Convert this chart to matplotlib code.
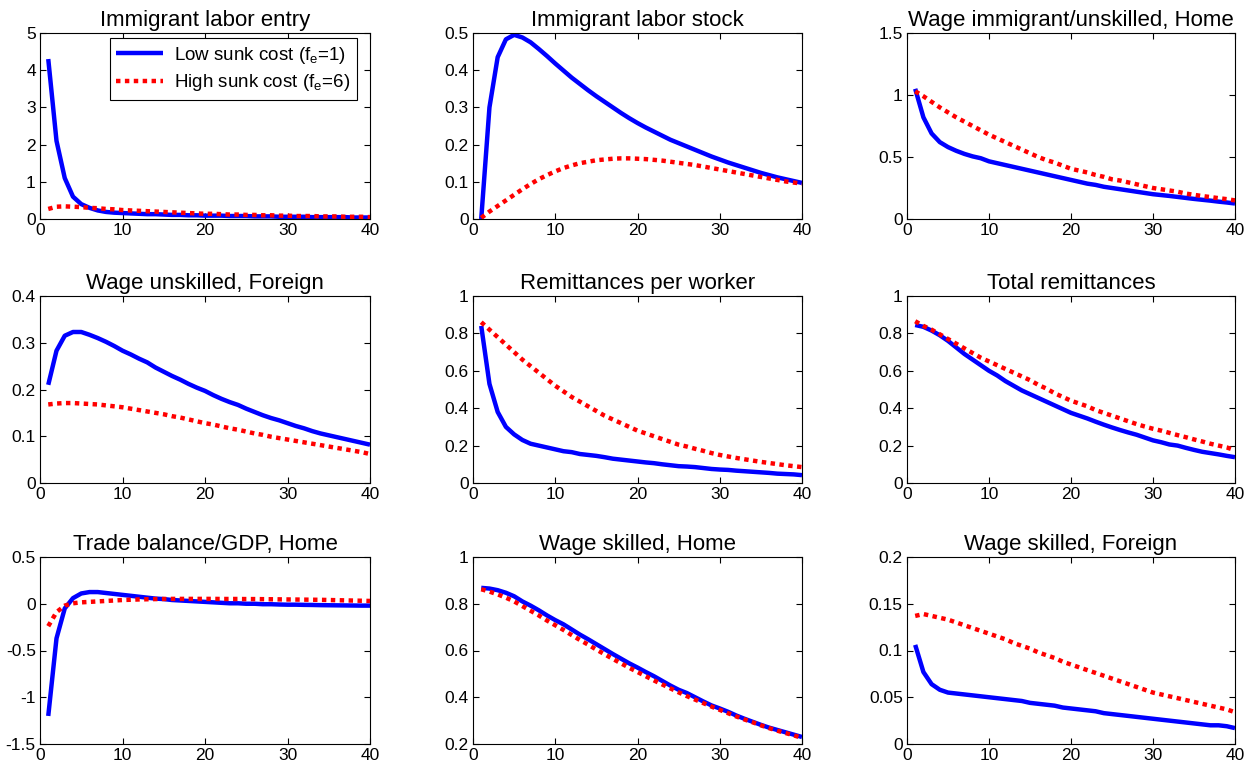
import matplotlib
matplotlib.use("Agg")
import matplotlib.pyplot as plt
import numpy as np
from matplotlib.ticker import FixedLocator, FuncFormatter

plt.rcParams['font.family'] = ['Liberation Sans', 'DejaVu Sans']
plt.rcParams['axes.unicode_minus'] = False

periods = list(range(1, 41))

titles = ["Immigrant labor entry", "Immigrant labor stock", "Wage immigrant/unskilled, Home",
          "Wage unskilled, Foreign", "Remittances per worker", "Total remittances",
          "Trade balance/GDP, Home", "Wage skilled, Home", "Wage skilled, Foreign"]

series_labels = ["Low sunk cost (f$_\\mathregular{e}$=1)", "High sunk cost (f$_\\mathregular{e}$=6)"]

# ---- Immigrant labor entry
entry_low = [4.3, 2.1, 1.1, 0.6, 0.4, 0.3, 0.23, 0.19, 0.17, 0.16, 0.15, 0.14, 0.13, 0.13, 0.12,
             0.11, 0.11, 0.10, 0.10, 0.09, 0.09, 0.09, 0.08, 0.08, 0.08, 0.07, 0.07, 0.07, 0.06, 0.06,
             0.06, 0.06, 0.05, 0.05, 0.05, 0.05, 0.05, 0.04, 0.04, 0.04]
entry_high = [0.27, 0.33, 0.34, 0.33, 0.32, 0.30, 0.29, 0.27, 0.26, 0.24, 0.23, 0.22, 0.21, 0.20, 0.19,
              0.18, 0.17, 0.16, 0.15, 0.14, 0.14, 0.13, 0.12, 0.12, 0.11, 0.11, 0.10, 0.10, 0.09, 0.09,
              0.08, 0.08, 0.08, 0.07, 0.07, 0.07, 0.06, 0.06, 0.06, 0.05]

# ---- Immigrant labor stock
stock_low = [0.0, 0.30, 0.435, 0.483, 0.495, 0.488, 0.475, 0.457, 0.438, 0.418, 0.399, 0.380, 0.363,
             0.346, 0.330, 0.315, 0.300, 0.285, 0.271, 0.258, 0.246, 0.235, 0.224, 0.213, 0.204, 0.195,
             0.186, 0.177, 0.168, 0.160, 0.152, 0.145, 0.138, 0.131, 0.124, 0.118, 0.112, 0.107, 0.102, 0.097]
stock_high = [0.003, 0.020, 0.035, 0.050, 0.065, 0.080, 0.094, 0.107, 0.118, 0.128, 0.137, 0.144, 0.150,
              0.154, 0.158, 0.160, 0.162, 0.163, 0.163, 0.162, 0.161, 0.159, 0.157, 0.154, 0.151, 0.148,
              0.145, 0.141, 0.137, 0.133, 0.129, 0.125, 0.121, 0.117, 0.113, 0.109, 0.105, 0.101, 0.098, 0.095]

# ---- Wage immigrant/unskilled, Home
wimm_low = [1.05, 0.82, 0.69, 0.62, 0.58, 0.55, 0.525, 0.505, 0.49, 0.465, 0.45, 0.435, 0.42, 0.405,
            0.39, 0.375, 0.36, 0.345, 0.33, 0.315, 0.30, 0.285, 0.275, 0.26, 0.25, 0.24, 0.23, 0.22,
            0.21, 0.20, 0.193, 0.186, 0.178, 0.17, 0.162, 0.155, 0.148, 0.14, 0.133, 0.125]
wimm_high = [1.03, 0.99, 0.945, 0.90, 0.86, 0.82, 0.785, 0.75, 0.715, 0.68, 0.65, 0.62, 0.59, 0.56,
             0.53, 0.50, 0.475, 0.455, 0.43, 0.405, 0.39, 0.375, 0.355, 0.34, 0.32, 0.31, 0.295, 0.28,
             0.265, 0.25, 0.24, 0.23, 0.22, 0.205, 0.195, 0.185, 0.177, 0.168, 0.16, 0.15]

# ---- Wage unskilled, Foreign
wunf_low = [0.21, 0.283, 0.315, 0.323, 0.323, 0.317, 0.31, 0.302, 0.293, 0.283, 0.275, 0.266, 0.258,
            0.247, 0.238, 0.229, 0.221, 0.212, 0.204, 0.197, 0.188, 0.18, 0.173, 0.167, 0.159, 0.152,
            0.145, 0.139, 0.134, 0.128, 0.122, 0.117, 0.111, 0.106, 0.102, 0.098, 0.094, 0.09, 0.086, 0.082]
wunf_high = [0.168, 0.17, 0.171, 0.171, 0.17, 0.169, 0.168, 0.166, 0.164, 0.162, 0.159, 0.156, 0.153,
             0.15, 0.147, 0.143, 0.14, 0.136, 0.132, 0.128, 0.125, 0.121, 0.117, 0.114, 0.11, 0.106,
             0.103, 0.099, 0.096, 0.093, 0.09, 0.087, 0.084, 0.081, 0.078, 0.075, 0.072, 0.069, 0.066, 0.062]

# ---- Remittances per worker
rpw_low = [0.84, 0.53, 0.38, 0.30, 0.26, 0.23, 0.21, 0.20, 0.19, 0.18, 0.17, 0.165, 0.155, 0.15, 0.145,
           0.138, 0.13, 0.125, 0.12, 0.115, 0.11, 0.106, 0.10, 0.095, 0.09, 0.088, 0.085, 0.08, 0.075,
           0.072, 0.07, 0.066, 0.063, 0.06, 0.057, 0.054, 0.05, 0.048, 0.046, 0.042]
rpw_high = [0.86, 0.82, 0.78, 0.74, 0.70, 0.66, 0.625, 0.59, 0.555, 0.52, 0.49, 0.46, 0.435, 0.41,
            0.385, 0.36, 0.34, 0.32, 0.30, 0.28, 0.265, 0.25, 0.235, 0.22, 0.205, 0.195, 0.183, 0.172,
            0.16, 0.15, 0.142, 0.134, 0.127, 0.12, 0.113, 0.107, 0.101, 0.095, 0.09, 0.085]

# ---- Total remittances
tot_low = [0.845, 0.835, 0.815, 0.79, 0.76, 0.725, 0.69, 0.66, 0.63, 0.60, 0.575, 0.545, 0.52, 0.495,
           0.475, 0.455, 0.435, 0.415, 0.395, 0.375, 0.36, 0.345, 0.328, 0.312, 0.297, 0.283, 0.27,
           0.258, 0.243, 0.228, 0.218, 0.206, 0.20, 0.188, 0.177, 0.167, 0.16, 0.153, 0.145, 0.138]
tot_high = [0.865, 0.84, 0.82, 0.795, 0.77, 0.745, 0.72, 0.695, 0.67, 0.65, 0.63, 0.61, 0.59, 0.57,
            0.55, 0.525, 0.505, 0.48, 0.46, 0.44, 0.425, 0.41, 0.39, 0.375, 0.36, 0.345, 0.33, 0.315,
            0.302, 0.29, 0.28, 0.268, 0.256, 0.245, 0.233, 0.222, 0.21, 0.20, 0.19, 0.175]

# ---- Trade balance/GDP, Home
tb_low = [-1.2, -0.37, -0.05, 0.06, 0.11, 0.125, 0.125, 0.115, 0.105, 0.095, 0.085, 0.075, 0.065, 0.055,
          0.05, 0.04, 0.035, 0.03, 0.025, 0.02, 0.015, 0.01, 0.005, 0.005, 0.0, 0.0, -0.005, -0.005,
          -0.008, -0.01, -0.01, -0.012, -0.013, -0.015, -0.016, -0.017, -0.018, -0.019, -0.02, -0.02]
tb_high = [-0.24, -0.09, -0.02, 0.005, 0.015, 0.02, 0.025, 0.03, 0.035, 0.04, 0.043, 0.046, 0.048, 0.05,
           0.051, 0.052, 0.052, 0.052, 0.052, 0.052, 0.052, 0.051, 0.051, 0.051, 0.05, 0.05, 0.049,
           0.048, 0.047, 0.046, 0.045, 0.044, 0.043, 0.042, 0.040, 0.038, 0.036, 0.034, 0.032, 0.030]

# ---- Wage skilled, Home
wsh_low = [0.868, 0.865, 0.858, 0.847, 0.832, 0.81, 0.792, 0.772, 0.75, 0.73, 0.712, 0.69, 0.668, 0.648,
           0.627, 0.606, 0.585, 0.565, 0.545, 0.527, 0.508, 0.49, 0.47, 0.45, 0.432, 0.418, 0.40, 0.382,
           0.365, 0.352, 0.338, 0.322, 0.308, 0.295, 0.282, 0.27, 0.26, 0.25, 0.24, 0.23]
wsh_high = [0.862, 0.852, 0.84, 0.826, 0.81, 0.79, 0.77, 0.75, 0.728, 0.708, 0.688, 0.666, 0.645, 0.625,
            0.604, 0.584, 0.564, 0.545, 0.526, 0.508, 0.49, 0.472, 0.455, 0.438, 0.421, 0.405, 0.39,
            0.375, 0.36, 0.346, 0.332, 0.318, 0.305, 0.293, 0.28, 0.268, 0.257, 0.247, 0.237, 0.226]

# ---- Wage skilled, Foreign
wsf_low = [0.106, 0.077, 0.064, 0.058, 0.055, 0.054, 0.053, 0.052, 0.051, 0.050, 0.049, 0.048, 0.047,
           0.046, 0.044, 0.043, 0.042, 0.041, 0.039, 0.038, 0.037, 0.036, 0.035, 0.033, 0.032, 0.031,
           0.030, 0.029, 0.028, 0.027, 0.026, 0.025, 0.024, 0.023, 0.022, 0.021, 0.020, 0.020, 0.019, 0.017]
wsf_high = [0.137, 0.139, 0.137, 0.135, 0.133, 0.130, 0.127, 0.124, 0.121, 0.118, 0.115, 0.112, 0.108,
            0.105, 0.102, 0.098, 0.095, 0.092, 0.088, 0.085, 0.082, 0.079, 0.076, 0.073, 0.070, 0.067,
            0.064, 0.061, 0.058, 0.055, 0.053, 0.051, 0.049, 0.047, 0.045, 0.043, 0.041, 0.039, 0.037, 0.034]

low_series = [entry_low, stock_low, wimm_low, wunf_low, rpw_low, tot_low, tb_low, wsh_low, wsf_low]
high_series = [entry_high, stock_high, wimm_high, wunf_high, rpw_high, tot_high, tb_high, wsh_high, wsf_high]

y_ticks = [[0, 1, 2, 3, 4, 5], [0, 0.1, 0.2, 0.3, 0.4, 0.5], [0, 0.5, 1, 1.5],
           [0, 0.1, 0.2, 0.3, 0.4], [0, 0.2, 0.4, 0.6, 0.8, 1], [0, 0.2, 0.4, 0.6, 0.8, 1],
           [-1.5, -1, -0.5, 0, 0.5], [0.2, 0.4, 0.6, 0.8, 1], [0, 0.05, 0.1, 0.15, 0.2]]
x_ticks = [0, 10, 20, 30, 40]

W, H = 1253, 766
fig = plt.figure(figsize=(W / 100, H / 100), dpi=100)

col_px = [(40, 370), (473, 802), (907, 1235)]
row_px = [(33, 219), (296, 483), (557, 744)]

fmt = FuncFormatter(lambda v, p: ('%g' % round(v, 6)))

for i in range(9):
    r, c = divmod(i, 3)
    l, rr = col_px[c]
    t, b = row_px[r]
    ax = fig.add_axes([l / W, 1 - b / H, (rr - l) / W, (b - t) / H])
    ax.plot(periods, low_series[i], color='#0000ff', lw=3.2, solid_capstyle='butt',
            label=series_labels[0], zorder=2)
    ax.plot(periods, high_series[i], color='#ff0000', lw=3.2, linestyle=(0, (1, 1)),
            dash_capstyle='butt', label=series_labels[1], zorder=3)
    ax.set_xlim(0, 40)
    ax.set_ylim(y_ticks[i][0], y_ticks[i][-1])
    ax.xaxis.set_major_locator(FixedLocator(x_ticks))
    ax.yaxis.set_major_locator(FixedLocator(y_ticks[i]))
    ax.yaxis.set_major_formatter(fmt)
    ax.xaxis.set_major_formatter(fmt)
    ax.tick_params(direction='in', top=True, right=True, length=4, width=0.8,
                   labelsize=12.5, pad=3, colors='black')
    for s in ax.spines.values():
        s.set_linewidth(0.8)
    ax.set_title(titles[i], fontsize=16, pad=5)
    if i == 0:
        leg = ax.legend(loc='upper right', bbox_to_anchor=(0.961, 0.973), fontsize=13.5,
                        frameon=True, fancybox=False, framealpha=1, edgecolor='black',
                        handlelength=2.5, borderaxespad=0, labelspacing=0.35,
                        borderpad=0.35, handletextpad=0.6)
        leg.get_frame().set_linewidth(0.8)

fig.savefig('out.png', dpi=100, facecolor='white')
